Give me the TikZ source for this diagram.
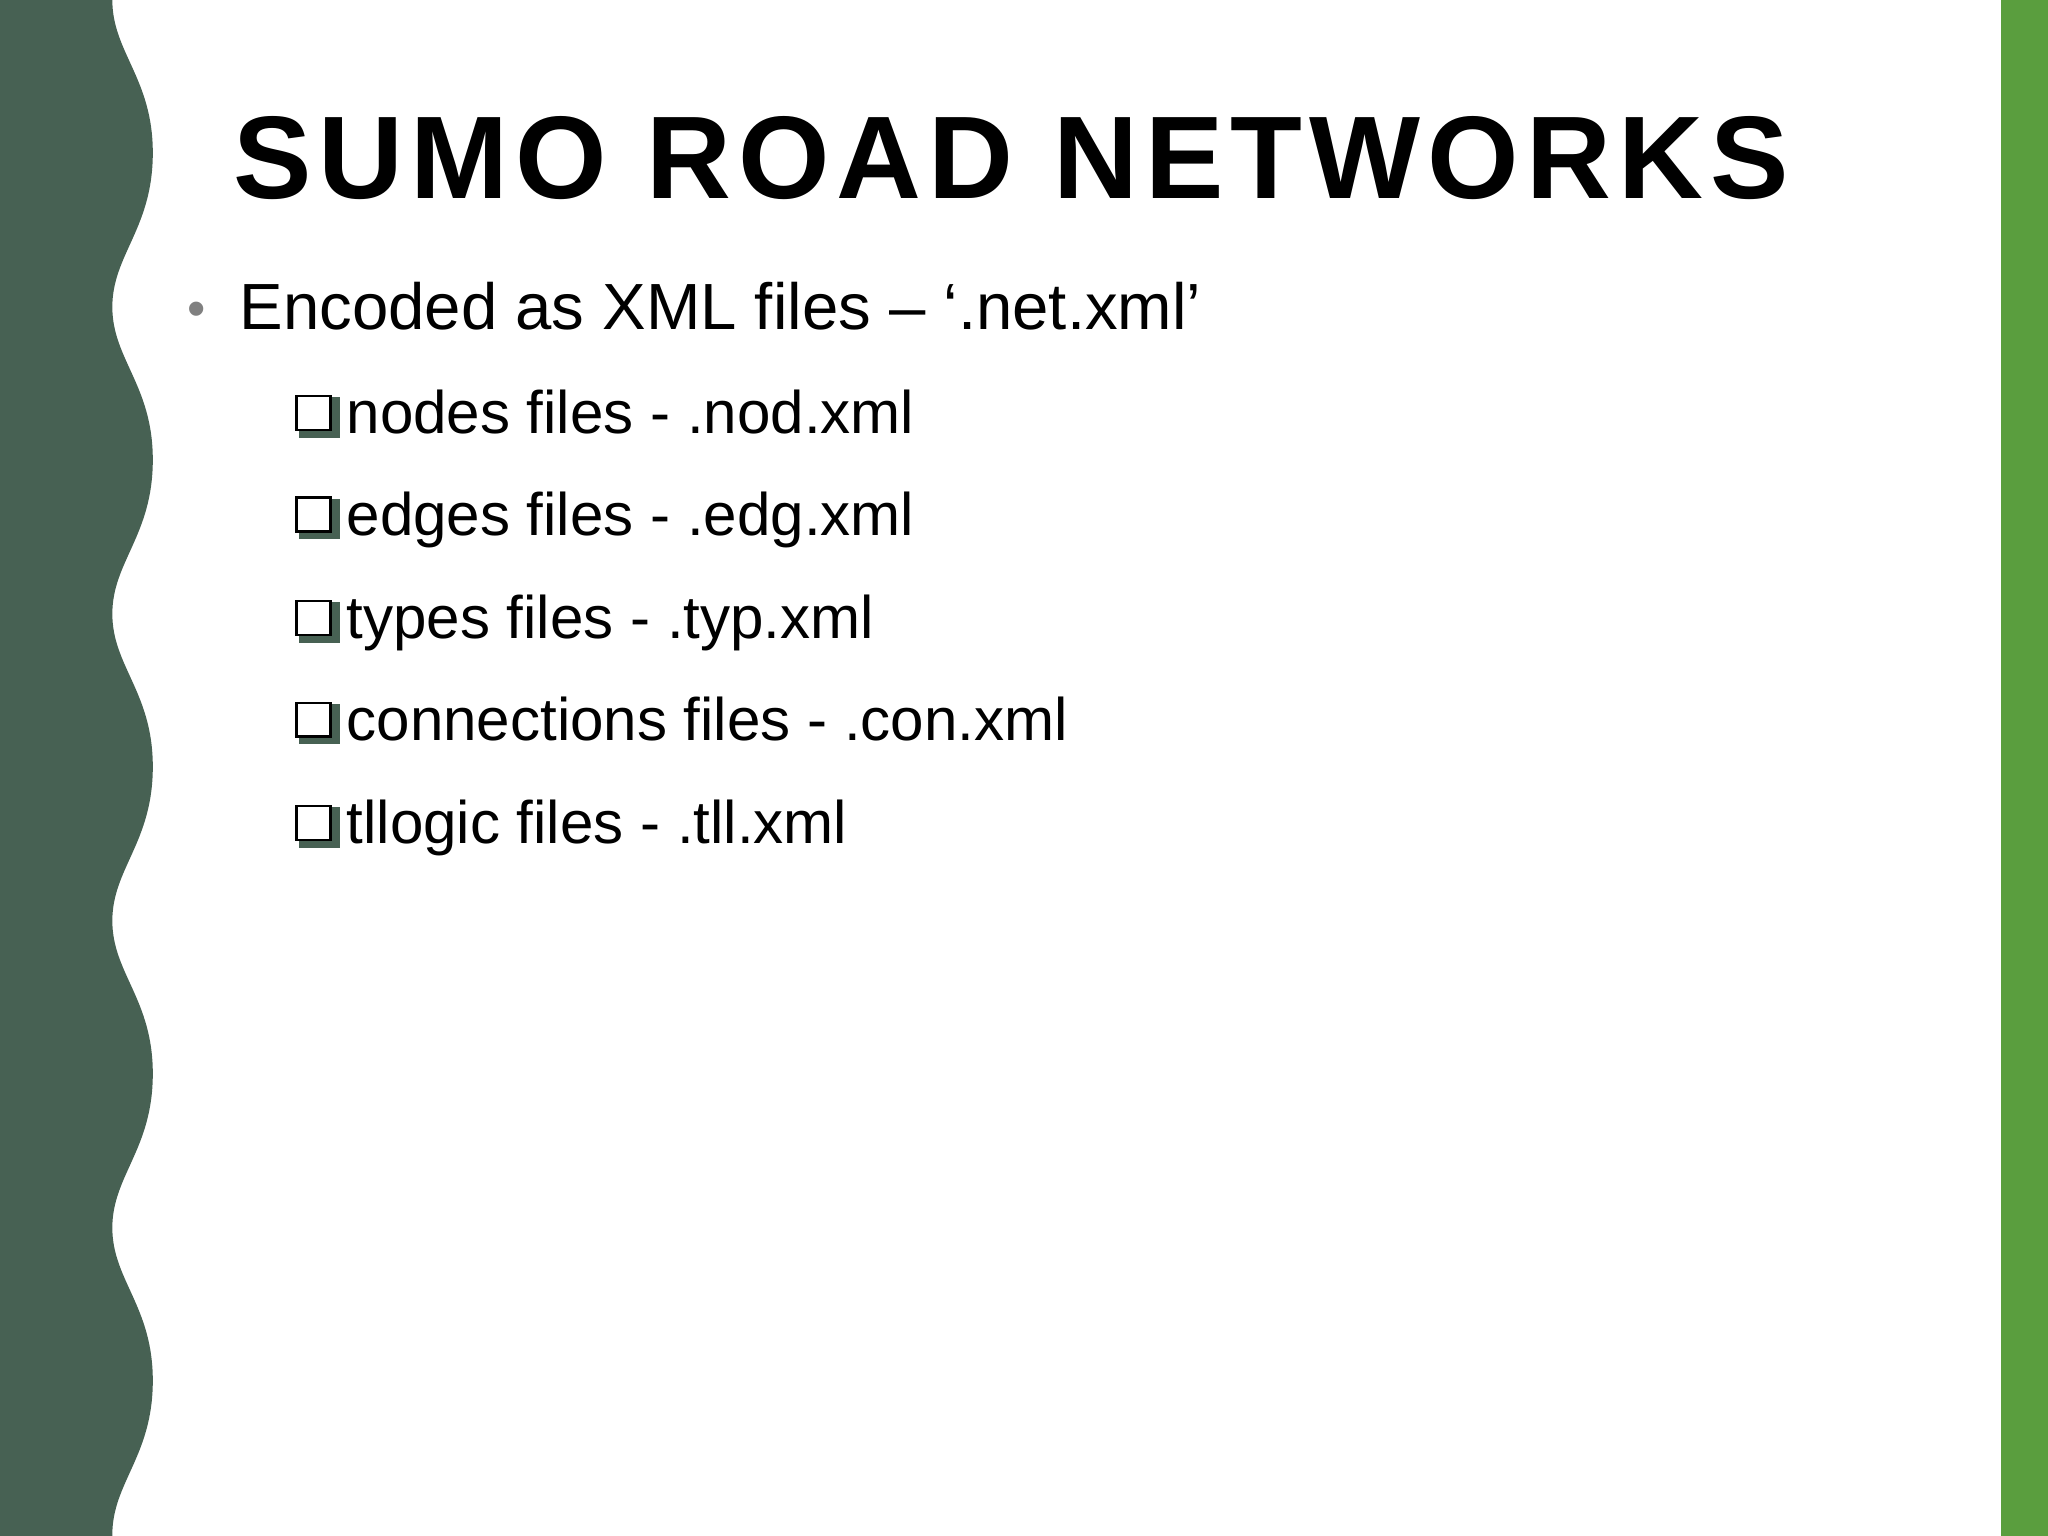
\documentclass[tikz,border=0pt]{standalone}
\usepackage{fontspec}
\setmainfont{Liberation Sans}
\newfontfamily\titlefont[LetterSpace=6]{Liberation Sans}
\definecolor{band}{HTML}{476153}
\definecolor{gbar}{HTML}{5A9E3E}
\begin{document}
\begin{tikzpicture}[x=0.5pt,y=-0.5pt,
  item/.style={anchor=base west,inner sep=0pt,font=\fontsize{23}{27}\selectfont},
  cbox/.style={draw=black,line width=0.9pt,fill=white,minimum width=13pt,minimum height=13pt,inner sep=0pt}]
\useasboundingbox (0,0) rectangle (1568,1176);
\fill[white] (0,0) rectangle (1568,1176);
% wavy band
\fill[band] (0,0) -- (86,0)
  \foreach \k in {0,...,4} {
    .. controls (86+0,{\k*235+40}) and (117,{\k*235+60}) .. (117,{\k*235+117})
    .. controls (117,{\k*235+175}) and (86,{\k*235+195}) .. (86,{\k*235+235})
  } -- (86,1176) -- (0,1176) -- cycle;
\fill[gbar] (1532,0) rectangle (1568,1176);
\node[anchor=base west,inner sep=0pt,font=\titlefont\bfseries\fontsize{45}{50}\selectfont] (title) at (178,152) {SUMO ROAD NETWORKS};
\node[anchor=base west,inner sep=0pt,text=gray,font=\fontsize{20}{24}\selectfont] (bul) at (143,250) {•};
\node[item,font=\fontsize{25}{30}\selectfont] (main) at (183,252) {Encoded as XML files – ‘.net.xml’};
\foreach \t/\y [count=\i] in {nodes files - .nod.xml/332, edges files - .edg.xml/410, types files - .typ.xml/489, connections files - .con.xml/567, tllogic files - .tll.xml/646}{
  \fill[band] (229,{\y-28}) rectangle (260,{\y+3});
  \node[cbox] (b\i) at (240,{\y-16}) {};
  \node[item] (t\i) at (265,\y) {\t};
}
\end{tikzpicture}
\end{document}
